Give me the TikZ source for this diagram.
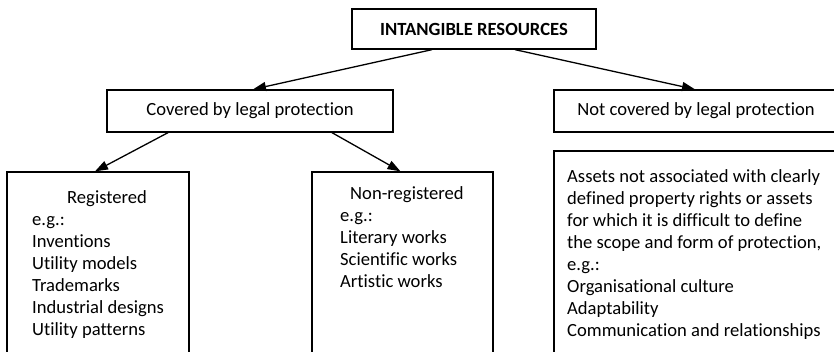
\documentclass[tikz,border=0pt]{standalone}
\usepackage{fontspec}
\setmainfont[Ligatures={NoCommon}]{Carlito}
\usetikzlibrary{arrows.meta}
\begin{document}
\begin{tikzpicture}[x=1pt,y=-1pt,
  box/.style={draw, line width=1.3pt, inner sep=0pt, anchor=center},
  txt/.style={font=\fontsize{18.6}{22}\selectfont},
  listtxt/.style={txt, align=left, anchor=north west, inner sep=0pt},
  link/.style={line width=1.3pt},
  arr/.style={link, -{Triangle[length=13pt,width=9pt]}}]
\useasboundingbox (0,0) rectangle (834,351);
\clip (0,0) rectangle (834,351);
\fill[white] (0,0) rectangle (834,351);

% top level
\node[box, minimum width=244pt, minimum height=40pt, txt, font=\fontsize{18.6}{22}\selectfont\bfseries]
  (top) at (474,29) {INTANGIBLE RESOURCES};

% second level
\node[box, minimum width=286pt, minimum height=42pt, txt] (cov) at (250,111) {Covered by legal protection};
\node[box, minimum width=284pt, minimum height=42pt, txt] (notcov) at (696,111) {Not covered by legal protection};

% third level boxes (running past the lower edge)
\node[box, minimum width=182pt, minimum height=200pt] (reg) at (98,272) {};
\node[box, minimum width=181pt, minimum height=200pt] (nonreg) at (402.5,272) {};
\node[box, minimum width=284pt, minimum height=220pt] (other) at (696,261) {};

% box contents
\node[listtxt] (regtxt) at (32,190) {\hspace*{35pt}Registered\\e.g.:\\Inventions\\Utility models\\Trademarks\\Industrial designs\\Utility patterns};
\node[listtxt] (nonregtxt) at (340,186) {\hspace*{10pt}Non-registered\\e.g.:\\Literary works\\Scientific works\\Artistic works};
\node[listtxt] (othertxt) at (567,169) {Assets not associated with clearly\\defined property rights or assets\\for which it is difficult to define\\the scope and form of protection,\\e.g.:\\Organisational culture\\Adaptability\\Communication and relationships};

% connectors
\draw[arr] ([xshift=-42pt]top.south) -- ([xshift=3pt]cov.north);
\draw[arr] ([xshift=41pt]top.south) -- ([xshift=-1pt]notcov.north);
\draw[arr] ([xshift=-82pt]cov.south) -- ([xshift=-3pt]reg.north);
\draw[arr] ([xshift=82pt]cov.south) -- ([xshift=-2pt]nonreg.north);
\end{tikzpicture}
\end{document}
